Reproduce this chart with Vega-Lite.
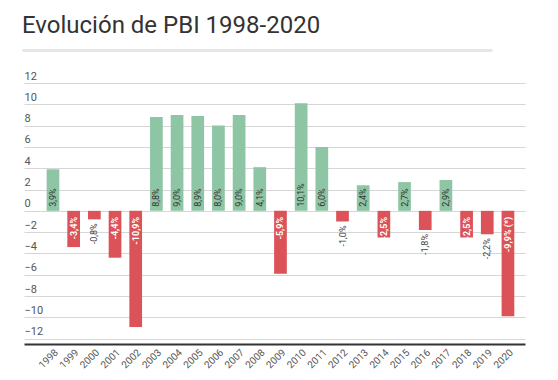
{
  "$schema": "https://vega.github.io/schema/vega-lite/v6.json",
  "width": 501,
  "height": 261,
  "autosize": {"type": "none"},
  "padding": {"left": 24, "top": 83, "right": 33, "bottom": 36},
  "background": "white",
  "config": {"view": {"stroke": null}, "font": "Roboto"},
  "title": {
    "text": "Evolución de PBI 1998-2020",
    "anchor": "start",
    "frame": "group",
    "fontSize": 24,
    "fontWeight": "normal",
    "color": "#333333",
    "font": "Roboto",
    "offset": 9,
    "dx": -2,
    "dy": -3
  },
  "data": {
    "values": [
      {"year": "1998", "value": 3.9, "label": "3,9%"},
      {"year": "1999", "value": -3.4, "label": "-3,4%"},
      {"year": "2000", "value": -0.8, "label": "-0,8%"},
      {"year": "2001", "value": -4.4, "label": "-4,4%"},
      {"year": "2002", "value": -10.9, "label": "-10,9%"},
      {"year": "2003", "value": 8.8, "label": "8,8%"},
      {"year": "2004", "value": 9.0, "label": "9,0%"},
      {"year": "2005", "value": 8.9, "label": "8,9%"},
      {"year": "2006", "value": 8.0, "label": "8,0%"},
      {"year": "2007", "value": 9.0, "label": "9,0%"},
      {"year": "2008", "value": 4.1, "label": "4,1%"},
      {"year": "2009", "value": -5.9, "label": "-5,9%"},
      {"year": "2010", "value": 10.1, "label": "10,1%"},
      {"year": "2011", "value": 6.0, "label": "6,0%"},
      {"year": "2012", "value": -1.0, "label": "-1,0%"},
      {"year": "2013", "value": 2.4, "label": "2,4%"},
      {"year": "2014", "value": -2.5, "label": "-2,5%"},
      {"year": "2015", "value": 2.7, "label": "2,7%"},
      {"year": "2016", "value": -1.8, "label": "-1,8%"},
      {"year": "2017", "value": 2.9, "label": "2,9%"},
      {"year": "2018", "value": -2.5, "label": "-2,5%"},
      {"year": "2019", "value": -2.2, "label": "-2,2%"},
      {"year": "2020", "value": -9.9, "label": "-9,9% (*)"}
    ]
  },
  "encoding": {
    "y": {
      "field": "value",
      "type": "quantitative",
      "scale": {"domain": [-12.5, 12], "nice": false, "zero": true},
      "axis": {
        "title": null,
        "values": [-12, -10, -8, -6, -4, -2, 0, 2, 4, 6, 8, 10, 12],
        "tickCount": 13,
        "domain": false,
        "ticks": false,
        "labelAlign": "left",
        "labelBaseline": "bottom",
        "labelPadding": 0,
        "labelOffset": -2,
        "labelOverlap": false,
        "labelFontSize": 11,
        "labelColor": "#555555",
        "gridColor": "#d6d6d6",
        "gridWidth": 1
      }
    }
  },
  "layer": [
    {
      "layer": [
        {
          "mark": {"type": "bar"},
          "encoding": {
            "x": {
              "field": "year",
              "type": "ordinal",
              "scale": {"paddingInner": 0.386, "paddingOuter": 0.806, "align": 0.679},
              "axis": {
                "title": null,
                "labelAngle": -45,
                "labelAlign": "right",
                "labelBaseline": "top",
                "labelFontSize": 10,
                "labelColor": "#555555",
                "labelPadding": 3,
                "labelOverlap": false,
                "ticks": false,
                "domainColor": "#333333",
                "domainWidth": 2,
                "grid": false
              }
            },
            "color": {
              "condition": {"test": "datum.value >= 0", "value": "#8ec5a4"},
              "value": "#db5258"
            }
          }
        },
        {
          "transform": [{"filter": "datum.value >= 0"}],
          "mark": {"type": "text", "angle": 270, "align": "left", "baseline": "middle", "dx": 4, "fontSize": 9, "color": "#333333"},
          "encoding": {
            "x": {"field": "year", "type": "ordinal"},
            "y": {
              "datum": 0,
              "type": "quantitative",
              "axis": {
                "title": null,
                "values": [-12, -10, -8, -6, -4, -2, 0, 2, 4, 6, 8, 10, 12],
                "tickCount": 13,
                "domain": false,
                "ticks": false,
                "labelAlign": "left",
                "labelBaseline": "bottom",
                "labelPadding": 0,
                "labelOffset": -2,
                "labelOverlap": false,
                "labelFontSize": 11,
                "labelColor": "#555555",
                "gridColor": "#d6d6d6",
                "gridWidth": 1
              }
            },
            "text": {"field": "label"}
          }
        },
        {
          "transform": [{"filter": "datum.value < -2.4"}],
          "mark": {"type": "text", "angle": 270, "align": "right", "baseline": "middle", "dx": -6, "fontSize": 9, "fontWeight": "bold", "color": "white"},
          "encoding": {
            "x": {"field": "year", "type": "ordinal"},
            "y": {
              "datum": 0,
              "type": "quantitative",
              "axis": {
                "title": null,
                "values": [-12, -10, -8, -6, -4, -2, 0, 2, 4, 6, 8, 10, 12],
                "tickCount": 13,
                "domain": false,
                "ticks": false,
                "labelAlign": "left",
                "labelBaseline": "bottom",
                "labelPadding": 0,
                "labelOffset": -2,
                "labelOverlap": false,
                "labelFontSize": 11,
                "labelColor": "#555555",
                "gridColor": "#d6d6d6",
                "gridWidth": 1
              }
            },
            "text": {"field": "label"}
          }
        },
        {
          "transform": [{"filter": "datum.value < 0 && datum.value >= -2.4"}],
          "mark": {"type": "text", "angle": 270, "align": "right", "baseline": "middle", "dx": -4, "fontSize": 9, "color": "#444444"},
          "encoding": {
            "x": {"field": "year", "type": "ordinal"},
            "text": {"field": "label"}
          }
        }
      ]
    },
    {
      "mark": {"type": "point", "opacity": 0},
      "encoding": {
        "x": {
          "field": "value",
          "type": "quantitative",
          "scale": {"domain": [-12, 12], "range": [-2, 468], "nice": false},
          "axis": {
            "orient": "top",
            "title": null,
            "labels": false,
            "ticks": false,
            "grid": false,
            "domainColor": "#e6e6e6",
            "domainWidth": 3,
            "offset": 33
          }
        }
      }
    }
  ],
  "resolve": {"scale": {"x": "independent"}, "axis": {"x": "independent"}}
}
